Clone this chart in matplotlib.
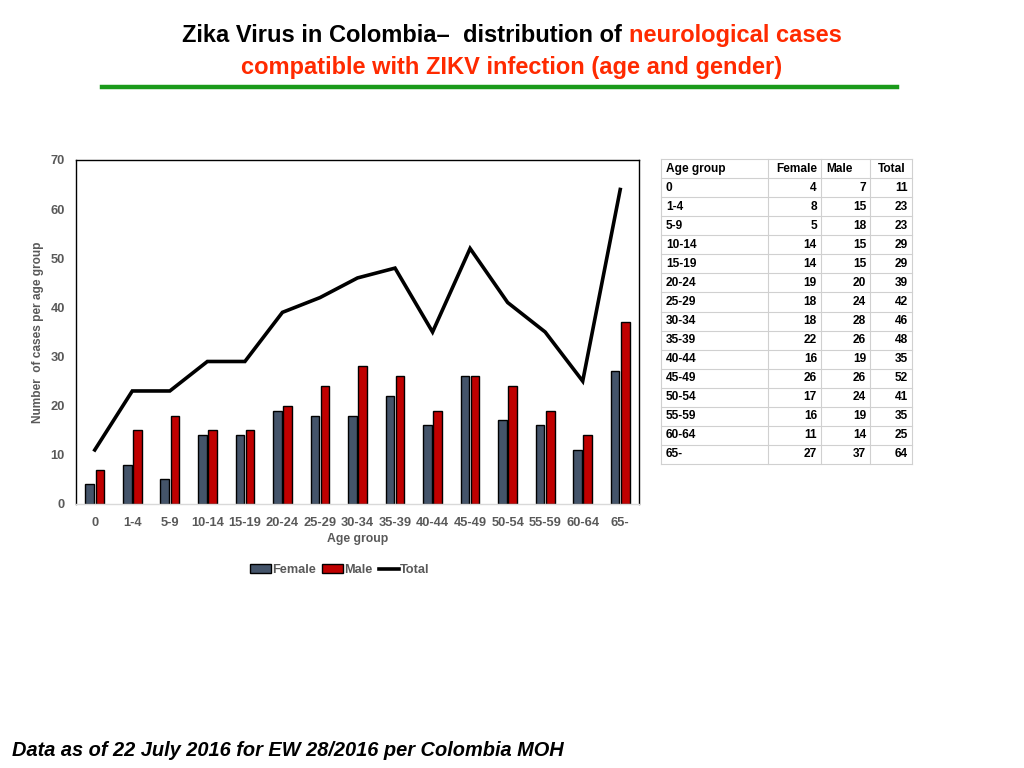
import matplotlib
matplotlib.use("Agg")
import matplotlib.pyplot as plt
import numpy as np
from matplotlib.lines import Line2D
from matplotlib.patches import Patch

age_groups = ["0", "1-4", "5-9", "10-14", "15-19", "20-24", "25-29", "30-34",
              "35-39", "40-44", "45-49", "50-54", "55-59", "60-64", "65-"]
female = [4, 8, 5, 14, 14, 19, 18, 18, 22, 16, 26, 17, 16, 11, 27]
male = [7, 15, 18, 15, 15, 20, 24, 28, 26, 19, 26, 24, 19, 14, 37]
total = [11, 23, 23, 29, 29, 39, 42, 46, 48, 35, 52, 41, 35, 25, 64]
yticks = [0, 10, 20, 30, 40, 50, 60, 70]

FEM_C = "#44546A"
MALE_C = "#C00000"
GREY = "#595959"
RED = "#FF2A00"

plt.rcParams['font.family'] = ['Liberation Sans', 'DejaVu Sans']

fig = plt.figure(figsize=(10.24, 7.68), dpi=100)
fig.patch.set_facecolor("white")

# Title
t1a = "Zika Virus in Colombia\u2013  distribution of "
t1b = "neurological cases"
tfs = 17
ty = 1 - 42 / 768
ta = fig.text(0.5, ty, t1a + t1b, ha="center", va="baseline",
              fontsize=tfs, fontweight="bold", color="none")
fig.canvas.draw()
bb = ta.get_window_extent()
ta.remove()
x0 = bb.x0 / fig.bbox.width
txa = fig.text(x0, ty, t1a, ha="left", va="baseline", fontsize=tfs,
               fontweight="bold", color="black")
fig.canvas.draw()
bba = txa.get_window_extent()
fig.text(bba.x1 / fig.bbox.width, ty, t1b, ha="left", va="baseline",
         fontsize=tfs, fontweight="bold", color=RED)
fig.text(0.5, 1 - 74 / 768, "compatible with ZIKV infection (age and gender)",
         ha="center", va="baseline", fontsize=tfs, fontweight="bold", color=RED)
fig.add_artist(Line2D([102 / 1024, 897 / 1024], [1 - 87 / 768, 1 - 87 / 768],
                      color="#1A9A1A", lw=3.2, transform=fig.transFigure))

# Chart
ax = fig.add_axes([76 / 1024, 1 - 504 / 768, 563 / 1024, 344 / 768])
x = np.arange(len(age_groups))
w = 0.23
ax.bar(x - 0.135, female, w, color=FEM_C, edgecolor="black", linewidth=1.0, zorder=2)
ax.bar(x + 0.135, male, w, color=MALE_C, edgecolor="black", linewidth=1.0, zorder=2)
ax.plot(x, total, color="black", lw=2.6, zorder=3, solid_joinstyle="miter")
ax.set_xlim(-0.5, len(age_groups) - 0.5)
ax.set_ylim(0, 70)
ax.set_yticks(yticks)
ax.set_xticks(x)
ax.set_xticklabels(age_groups)
ax.tick_params(length=0, labelsize=9.3, labelcolor=GREY, pad=9)
ax.tick_params(axis="y", pad=8)
for lab in ax.get_xticklabels() + ax.get_yticklabels():
    lab.set_fontweight("bold")
for s in ["top", "left", "right"]:
    ax.spines[s].set_color("black")
    ax.spines[s].set_linewidth(1.0)
ax.spines["bottom"].set_color("#D9D9D9")
ax.spines["bottom"].set_linewidth(1.0)
ax.set_xlabel("Age group", fontsize=8.8, fontweight="bold", color=GREY, labelpad=3)
ax.set_ylabel("Number  of cases per age group", fontsize=8.6, fontweight="bold",
              color=GREY, labelpad=5)

handles = [Patch(facecolor=FEM_C, edgecolor="black", linewidth=1.0),
           Patch(facecolor=MALE_C, edgecolor="black", linewidth=1.0),
           Line2D([0], [0], color="black", lw=2.6)]
leg = fig.legend(handles, ["Female", "Male", "Total"], loc="center",
                 bbox_to_anchor=(340 / 1024, 1 - 570 / 768), ncol=3, frameon=False,
                 handlelength=1.6, handleheight=0.6, handletextpad=0.1,
                 columnspacing=0.5, prop={"size": 9.2, "weight": "bold"})
for t in leg.get_texts():
    t.set_color(GREY)

# Table
tx0, tx1 = 661, 912
ty0, ty1 = 159, 464
cols = [661, 768, 821, 870, 912]
nrows = len(age_groups) + 1
rh = (ty1 - ty0) / nrows
tab = fig.add_axes([0, 0, 1, 1], facecolor="none")
tab.set_xlim(0, 1024)
tab.set_ylim(768, 0)
tab.axis("off")
gc = "#D0D0D0"
for i in range(nrows + 1):
    yy = ty0 + i * rh
    tab.plot([tx0, tx1], [yy, yy], color=gc, lw=0.8)
for cx in cols:
    tab.plot([cx, cx], [ty0, ty1], color=gc, lw=0.8)
fs = 8.6
hy = ty0 + rh / 2
tab.text(cols[0] + 5, hy, "Age group", ha="left", va="center", fontsize=fs, fontweight="bold")
tab.text(cols[2] - 4, hy, "Female", ha="right", va="center", fontsize=fs, fontweight="bold")
tab.text(cols[2] + 5, hy, "Male", ha="left", va="center", fontsize=fs, fontweight="bold")
tab.text((cols[3] + cols[4]) / 2 + 1, hy, "Total", ha="center", va="center", fontsize=fs, fontweight="bold")
for i, ag in enumerate(age_groups):
    yy = ty0 + (i + 1.5) * rh
    tab.text(cols[0] + 5, yy, ag, ha="left", va="center", fontsize=fs, fontweight="bold")
    tab.text(cols[2] - 4, yy, str(female[i]), ha="right", va="center", fontsize=fs, fontweight="bold")
    tab.text(cols[3] - 4, yy, str(male[i]), ha="right", va="center", fontsize=fs, fontweight="bold")
    tab.text(cols[4] - 4, yy, str(total[i]), ha="right", va="center", fontsize=fs, fontweight="bold")

# Footer
fig.text(12 / 1024, 1 - 750 / 768, "Data as of 22 July 2016 for EW 28/2016 per Colombia MOH",
         ha="left", va="center", fontsize=14.4, fontweight="bold", fontstyle="italic",
         color="black")

fig.savefig("out.png", dpi=100)
